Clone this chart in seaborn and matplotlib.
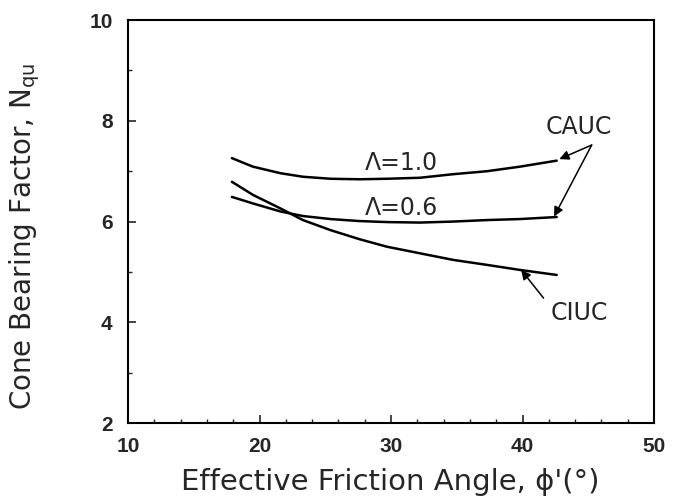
import matplotlib
matplotlib.use("Agg")
import matplotlib.pyplot as plt
import seaborn as sns
import pandas as pd
from matplotlib.ticker import MultipleLocator

sns.set_style("ticks")
plt.rcParams['font.family'] = ['Liberation Sans', 'DejaVu Sans']
plt.rcParams['mathtext.fontset'] = 'custom'
plt.rcParams['mathtext.rm'] = 'DejaVu Sans'

# Data
phi = [17.9, 19.5, 21.6, 23.3, 25.4, 27.6, 29.7, 32.2, 34.7, 37.3, 39.8, 42.6]
lam10 = [7.26, 7.09, 6.96, 6.89, 6.85, 6.84, 6.85, 6.87, 6.94, 7.00, 7.09, 7.21]
lam06 = [6.49, 6.36, 6.20, 6.11, 6.05, 6.01, 5.99, 5.98, 6.00, 6.03, 6.05, 6.09]
ciuc = [6.79, 6.53, 6.26, 6.03, 5.83, 5.65, 5.50, 5.37, 5.24, 5.14, 5.04, 4.94]

series_names = ["Λ=1.0", "Λ=0.6", "CIUC"]
x_ticks = [10, 20, 30, 40, 50]
y_ticks = [2, 4, 6, 8, 10]

df = pd.concat([
    pd.DataFrame({"phi": phi, "N": lam10, "s": series_names[0]}),
    pd.DataFrame({"phi": phi, "N": lam06, "s": series_names[1]}),
    pd.DataFrame({"phi": phi, "N": ciuc, "s": series_names[2]}),
])

fig = plt.figure(figsize=(6.73, 5.03), dpi=100)
ax = fig.add_axes([0.1902, 0.159, 0.7816, 0.801])

sns.lineplot(data=df, x="phi", y="N", hue="s", units="s", estimator=None,
             palette={n: "black" for n in series_names}, linewidth=1.8,
             legend=False, ax=ax)

ax.set_xlim(10, 50)
ax.set_ylim(2, 10)
ax.set_xticks(x_ticks)
ax.set_yticks(y_ticks)
ax.xaxis.set_minor_locator(MultipleLocator(2))
ax.yaxis.set_minor_locator(MultipleLocator(1))
ax.tick_params(which="major", direction="in", length=6, width=1.2, top=False, right=False,
               labelsize=15)
ax.tick_params(axis="x", which="major", pad=10)
ax.tick_params(axis="y", which="major", pad=11)
ax.tick_params(which="minor", direction="in", length=3, width=1.0)
for lab in ax.get_xticklabels() + ax.get_yticklabels():
    lab.set_fontweight("bold")
for sp in ax.spines.values():
    sp.set_visible(True)
    sp.set_linewidth(1.5)
    sp.set_color("black")

ax.set_xlabel("Effective Friction Angle, ϕ'(°)", fontsize=21,
              family=['DejaVu Sans'])
ax.xaxis.set_label_coords(0.498, -0.112)
ax.set_ylabel(r"Cone Bearing Factor, N$_{\mathrm{qu}}$", fontsize=20,
              family=['DejaVu Sans'])
ax.yaxis.set_label_coords(-0.163, 0.463)

txt = dict(fontsize=17, ha="center", va="center", family=['DejaVu Sans'])
ax.text(30.8, 7.16, "Λ=1.0", **txt)
ax.text(30.8, 6.26, "Λ=0.6", **txt)
ax.text(44.3, 7.88, "CAUC", **txt)
ax.text(44.3, 4.18, "CIUC", **txt)

arrow = dict(arrowstyle="-|>", color="black", lw=1.1, mutation_scale=14,
             shrinkA=0, shrinkB=0)
ax.annotate("", xy=(42.8, 7.24), xytext=(45.26, 7.52), arrowprops=arrow)
ax.annotate("", xy=(42.4, 6.10), xytext=(45.26, 7.52), arrowprops=arrow)
ax.annotate("", xy=(39.9, 5.04), xytext=(41.6, 4.48), arrowprops=arrow)

fig.savefig("out.png", dpi=100)
